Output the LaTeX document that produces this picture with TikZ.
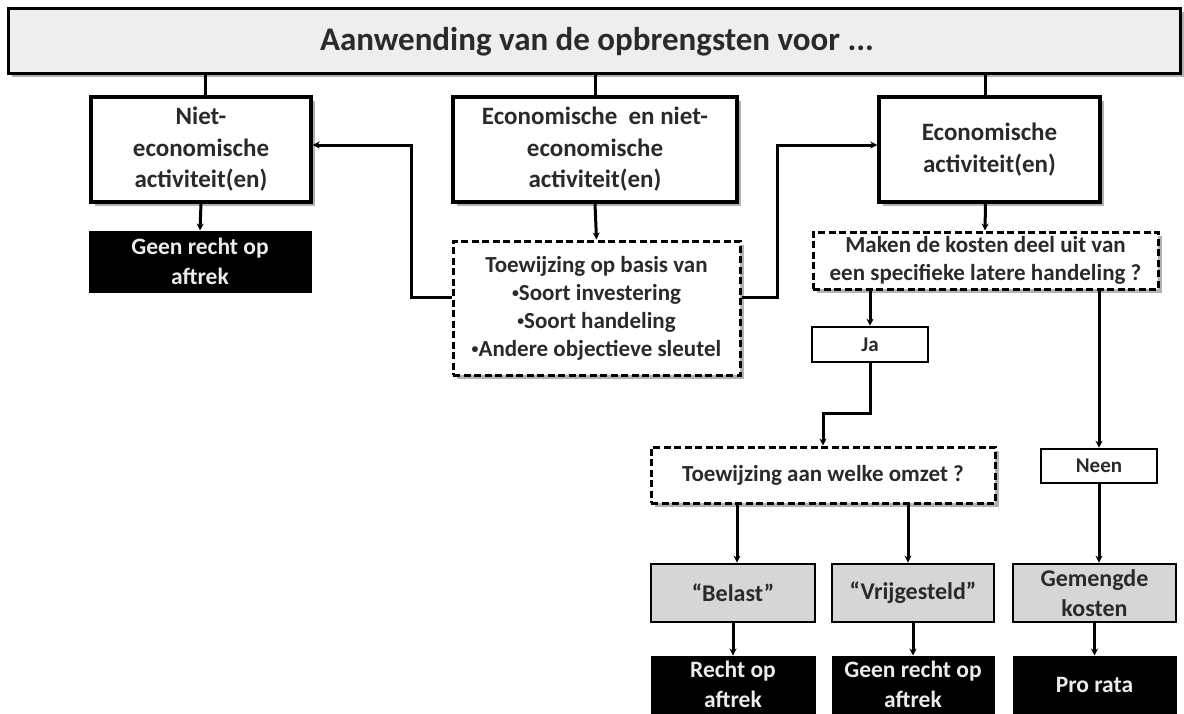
\documentclass[tikz,border=0pt]{standalone}
\usepackage{fontspec}
\setmainfont{Carlito}
\usetikzlibrary{arrows.meta,shadows,calc}

\definecolor{txt}{HTML}{2A2A2A}
\definecolor{titlefill}{HTML}{EEEEEE}
\definecolor{grayfill}{HTML}{D6D6D6}
\definecolor{softwhite}{HTML}{EBEBEB}

% a small bullet as used in the list of allocation keys
\newcommand\keybullet{\raisebox{0.25ex}{\scalebox{0.6}{\textbullet}}}

\tikzset{
  every node/.style={font=\bfseries, text=txt},
  shade/.style={drop shadow={shadow xshift=3.5pt, shadow yshift=-3.5pt, opacity=0.3, fill=black}},
  topbox/.style={draw=black, line width=3pt, fill=titlefill, shade},
  actbox/.style={draw=black, line width=3.4pt, fill=white, shade, align=center,
                 font=\bfseries\fontsize{25}{31.5}\selectfont},
  askbox/.style={draw=black, line width=3pt, dash pattern=on 7pt off 3.5pt, fill=white, shade,
                 align=center, font=\bfseries\fontsize{23}{28}\selectfont},
  tagbox/.style={draw=black, line width=2.6pt, fill=white, align=center,
                 font=\bfseries\fontsize{21}{24}\selectfont},
  kindbox/.style={draw=black, line width=2.8pt, fill=grayfill, align=center,
                  font=\bfseries\fontsize{24}{30}\selectfont},
  resbox/.style={draw=black, line width=1pt, fill=black, text=softwhite, align=center,
                 font=\bfseries\fontsize{23.5}{30}\selectfont},
  link/.style={draw=black, line width=3pt},
  arr/.style={link, -{Stealth[length=7pt,width=7pt]}},
}

\begin{document}
\begin{tikzpicture}[x=1pt, y=-1pt]
\useasboundingbox (0,0) rectangle (1184,713);

% heading
\node[topbox, minimum width=1172pt, minimum height=65pt] (top) at (594,40.5) {};
\node[font=\bfseries\fontsize{33}{38}\selectfont] (title) at (597,42)
  {Aanwending van de opbrengsten voor ...};

% the three kinds of activity
\node[actbox, minimum width=220pt, minimum height=105pt] (nonec) at (201,149.5)
  {Niet-\\economische\\activiteit(en)};
\node[actbox, minimum width=284pt, minimum height=105pt] (mixed) at (595,149.5)
  {Economische\hspace{0.45em}en niet-\\economische\\activiteit(en)};
\node[actbox, minimum width=221pt, minimum height=105pt] (econ) at (989.5,149.5)
  {Economische\\activiteit(en)};

% left column
\node[resbox, minimum width=222pt, minimum height=61pt] (nodeduct) at (200,261.5)
  {Geen recht op\\aftrek};

% allocation key
\node[askbox, minimum width=287pt, minimum height=134pt] (alloc) at (596.5,308)
  {Toewijzing op basis van\\\keybullet Soort investering\\\keybullet Soort handeling\\\keybullet Andere objectieve sleutel};

% question on later transaction
\node[askbox, minimum width=345pt, minimum height=57pt] (later) at (985.5,260.5)
  {Maken de kosten deel uit van\\een specifieke latere handeling ?};

\node[tagbox, minimum width=116pt, minimum height=35pt] (yes) at (870,344.5) {Ja};
\node[tagbox, minimum width=116pt, minimum height=34pt] (no) at (1099,466) {Neen};

\node[askbox, minimum width=344pt, minimum height=56pt] (turnover) at (823,475)
  {Toewijzing aan welke omzet ?};

% kinds of costs
\node[kindbox, minimum width=164pt, minimum height=58pt] (taxed) at (733,593) {``Belast''};
\node[kindbox, minimum width=162pt, minimum height=58pt] (exempt) at (913,593) {``Vrijgesteld''};
\node[kindbox, minimum width=163pt, minimum height=58pt] (general) at (1094.5,593) {Gemengde\\kosten};

% outcomes, running to the lower edge
\node[resbox, minimum width=164pt, minimum height=57pt] (deduct) at (733,684.5) {Recht op\\aftrek};
\node[resbox, minimum width=162pt, minimum height=57pt] (nodeduct2) at (913,684.5) {Geen recht op\\aftrek};
\node[resbox, minimum width=163pt, minimum height=57pt] (prorata) at (1094.5,684.5) {Pro rata};

% lines from the heading
\draw[link] ($(top.south -| nonec.north)+(4,0)$) -- ($(nonec.north)+(4,0)$);
\draw[link] (top.south -| mixed.north) -- (mixed.north);
\draw[link] ($(top.south -| econ.north)+(-4,0)$) -- ($(econ.north)+(-4,0)$);

% arrows
\draw[arr] (nonec.south) -- (nodeduct.north);
\draw[arr] (mixed.south) -- (alloc.north);
\draw[arr] ([yshift=11pt]alloc.west) -| ++(-40,-152) -- ([yshift=4.5pt]nonec.east);
\draw[arr] ([yshift=11pt]alloc.east) -| ++(36,-152) -- ([yshift=4.5pt]econ.west);
\draw[arr] ($(econ.south)+(-4,0)$) -- ($(later.north)+(-0.5,0)$);
\draw[arr] (later.south -| yes.north) -- (yes.north);
\draw[arr] (later.south -| no.north) -- (no.north);
\draw[arr] (yes.south) -- ++(0,50) -| (turnover.north);
\draw[arr] ($(turnover.south -| taxed.north)+(4,0)$) -- ($(taxed.north)+(4,0)$);
\draw[arr] ($(turnover.south -| exempt.north)+(-5,0)$) -- ($(exempt.north)+(-5,0)$);
\draw[arr] (no.south) -- (no.south |- general.north);
\draw[arr] (taxed.south) -- (deduct.north);
\draw[arr] (exempt.south) -- (nodeduct2.north);
\draw[arr] (general.south) -- (prorata.north);
\end{tikzpicture}
\end{document}
